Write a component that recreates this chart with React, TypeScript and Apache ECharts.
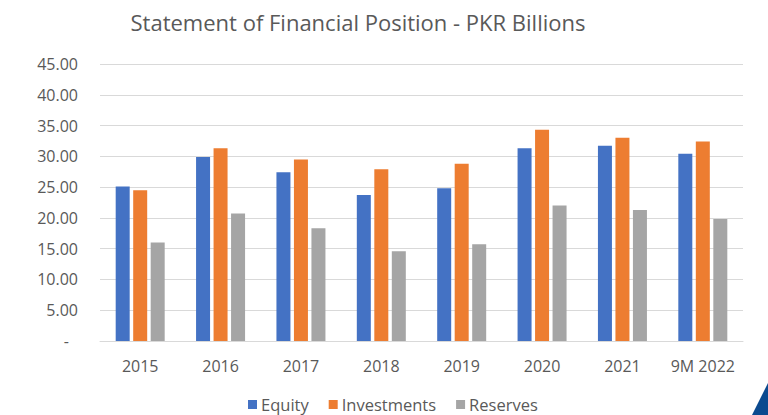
import React, { useEffect, useRef } from "react";
import * as echarts from "echarts";

const categories = ["2015", "2016", "2017", "2018", "2019", "2020", "2021", "9M 2022"];
const equity = [25.1, 29.9, 27.4, 23.7, 24.8, 31.3, 31.7, 30.4];
const investments = [24.5, 31.3, 29.5, 27.9, 28.8, 34.3, 33.0, 32.4];
const reserves = [16.0, 20.7, 18.3, 14.6, 15.7, 22.0, 21.3, 19.8];
const seriesNames = ["Equity", "Investments", "Reserves"];
const colors = ["#4472C4", "#ED7D31", "#A5A5A5"];

const FONT = "'Open Sans', sans-serif";
const TEXT = "#595959";

export default function App() {
  const ref = useRef<HTMLDivElement>(null);
  useEffect(() => {
    if (!ref.current) return;
    const chart = echarts.init(ref.current, undefined, { renderer: "svg" });
    const data = [equity, investments, reserves];
    chart.setOption({
      animation: false,
      backgroundColor: "#ffffff",
      textStyle: { fontFamily: FONT },
      title: {
        text: "Statement of Financial Position - PKR Billions",
        left: 353,
        top: 6,
        textAlign: "center",
        textStyle: { fontFamily: FONT, fontSize: 22, fontWeight: "normal", color: TEXT },
      },
      legend: {
        data: seriesNames,
        left: 243,
        bottom: -3,
        itemWidth: 9,
        itemHeight: 9,
        itemGap: 20,
        icon: "rect",
        textStyle: { fontFamily: FONT, fontSize: 16.5, color: TEXT, padding: [0, 0, 0, -1] },
      },
      grid: { left: 100, right: 25, top: 64, bottom: 74 },
      xAxis: {
        type: "category",
        data: categories,
        axisTick: { show: false },
        axisLine: { lineStyle: { color: "#D9D9D9", width: 1 } },
        axisLabel: { color: TEXT, fontSize: 16, margin: 17, fontFamily: FONT, interval: 0 },
      },
      yAxis: {
        type: "value",
        min: 0,
        max: 45,
        interval: 5,
        axisLine: { show: false },
        axisTick: { show: false },
        splitLine: { lineStyle: { color: "#D9D9D9", width: 1 } },
        axisLabel: {
          color: TEXT,
          fontSize: 16,
          margin: 22,
          fontFamily: FONT,
          formatter: (v: number) => (v === 0 ? "{d|-}" : v.toFixed(2)),
          rich: { d: { color: TEXT, fontSize: 16, fontFamily: FONT, padding: [0, 9, 0, 0] } },
        },
      },
      series: seriesNames.map((name, i) => ({
        name,
        type: "bar",
        data: data[i],
        barWidth: 14,
        barGap: "25%",
        itemStyle: { color: colors[i] },
      })),
      graphic: [
        {
          type: "polygon",
          shape: { points: [[752, 415], [768, 383], [768, 415]] },
          style: { fill: "#0B4A8F" },
        },
      ],
    });
    return () => chart.dispose();
  }, []);
  return (
    <div
      ref={ref}
      style={{ width: 768, height: 415, position: "fixed", left: 0, top: 0 }}
    />
  );
}
